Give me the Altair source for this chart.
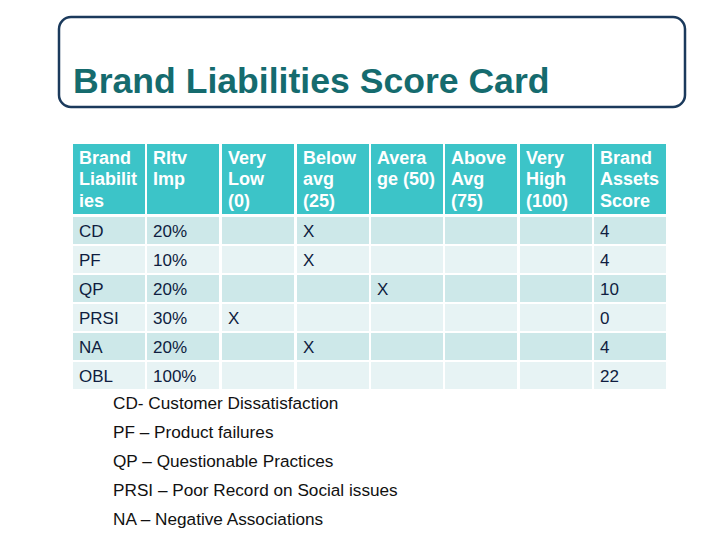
import altair as alt
import pandas as pd

# ---------------- data ----------------
title = "Brand Liabilities Score Card"
header_labels = [
    ["Brand", "Liabilit", "ies"],
    ["Rltv", "Imp"],
    ["Very", "Low", "(0)"],
    ["Below", "avg", "(25)"],
    ["Avera", "ge (50)"],
    ["Above", "Avg", "(75)"],
    ["Very", "High", "(100)"],
    ["Brand", "Assets", "Score"],
]
liabilities = ["CD", "PF", "QP", "PRSI", "NA", "OBL"]
importance = ["20%", "10%", "20%", "30%", "20%", "100%"]
rating_levels = ["Very Low (0)", "Below avg (25)", "Average (50)", "Above Avg (75)", "Very High (100)"]
rating_marked = ["Below avg (25)", "Below avg (25)", "Average (50)", "Very Low (0)", "Below avg (25)", ""]
scores = ["4", "4", "10", "0", "4", "22"]
legend_lines = [
    "CD- Customer Dissatisfaction",
    "PF \u2013 Product failures",
    "QP \u2013 Questionable Practices",
    "PRSI \u2013 Poor Record on Social issues",
    "NA \u2013 Negative Associations",
]

# ---------------- layout ----------------
W, H = 704, 524
col_left = [73, 147, 222, 297, 371, 445, 520, 594]
col_w = 72
header_top, header_bottom = 144, 214
row_top0, row_pitch, row_h = 217, 29, 27
pad = 6

HEADER_FILL = "#3CC4C8"
ROW_FILLS = ["#CDE8E9", "#E7F3F4"]
BODY_TEXT = "#0F1D40"
FONT = "Liberation Sans"

xs = alt.Scale(domain=[8, 8 + W], range=[0, W])
ys = alt.Scale(domain=[8, 8 + H], range=[0, H])

def X(f="x"):
    return alt.X(f"{f}:Q", scale=xs, axis=None)

def Y(f="y"):
    return alt.Y(f"{f}:Q", scale=ys, axis=None)

# cells
cells = []
for c in range(len(header_labels)):
    cells.append(dict(x=col_left[c], x2=col_left[c] + col_w, y=header_top, y2=header_bottom, fill=HEADER_FILL))
for r in range(len(liabilities)):
    top = row_top0 + r * row_pitch
    for c in range(len(header_labels)):
        cells.append(dict(x=col_left[c], x2=col_left[c] + col_w, y=top, y2=top + row_h, fill=ROW_FILLS[r % 2]))
cells_df = pd.DataFrame(cells)

# header text
htxt = []
for c, lines in enumerate(header_labels):
    for k, t in enumerate(lines):
        htxt.append(dict(x=col_left[c] + pad, y=158.5 + 21.5 * k, t=t))
htxt_df = pd.DataFrame(htxt)

# body text
btxt = []
for r, name in enumerate(liabilities):
    yc = row_top0 + r * row_pitch + row_h / 2 + 1
    btxt.append(dict(x=col_left[0] + pad, y=yc, t=name))
    btxt.append(dict(x=col_left[1] + pad, y=yc, t=importance[r]))
    if rating_marked[r] in rating_levels:
        ci = 2 + rating_levels.index(rating_marked[r])
        btxt.append(dict(x=col_left[ci] + pad, y=yc, t="X"))
    btxt.append(dict(x=col_left[7] + pad, y=yc, t=scores[r]))
btxt_df = pd.DataFrame(btxt)

legend_df = pd.DataFrame([dict(x=113, y=403.5 + 29 * k, t=t) for k, t in enumerate(legend_lines)])

box_df = pd.DataFrame([dict(x=59, x2=685, y=17, y2=107)])
title_df = pd.DataFrame([dict(x=73, y=93, t=title)])

box = alt.Chart(box_df).mark_rect(
    fill="white", stroke="#1B3A5C", strokeWidth=2.5, cornerRadius=12
).encode(x=X(), x2="x2:Q", y=Y(), y2="y2:Q")

title_txt = alt.Chart(title_df).mark_text(
    align="left", baseline="alphabetic", font=FONT, fontSize=35.6, fontWeight="bold", color="#156B6E"
).encode(x=X(), y=Y(), text="t:N")

cell_layer = alt.Chart(cells_df).mark_rect().encode(
    x=X(), x2="x2:Q", y=Y(), y2="y2:Q", fill=alt.Fill("fill:N", scale=None)
)

header_layer = alt.Chart(htxt_df).mark_text(
    align="left", baseline="middle", font=FONT, fontSize=18, fontWeight="bold", color="white"
).encode(x=X(), y=Y(), text="t:N")

body_layer = alt.Chart(btxt_df).mark_text(
    align="left", baseline="middle", font=FONT, fontSize=17, color=BODY_TEXT
).encode(x=X(), y=Y(), text="t:N")

legend_layer = alt.Chart(legend_df).mark_text(
    align="left", baseline="middle", font=FONT, fontSize=17.2, color="#111111"
).encode(x=X(), y=Y(), text="t:N")

chart = alt.layer(
    box, title_txt, cell_layer, header_layer, body_layer, legend_layer
).properties(
    width=W, height=H, autosize=alt.AutoSizeParams(type="none"), padding=0, background="white"
).configure_view(stroke=None)

chart.save("out.html", embed_options={"renderer": "svg", "actions": False})
